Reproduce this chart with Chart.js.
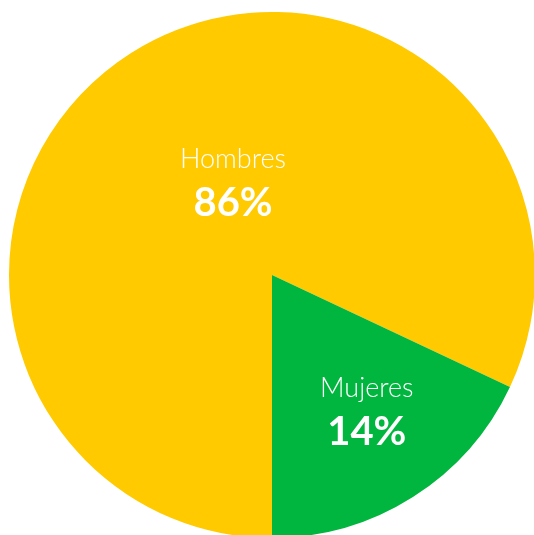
<!DOCTYPE html>
<html>
<head>
<meta charset="utf-8">
<script src="https://cdn.jsdelivr.net/npm/chart.js@4"></script>
<style>
  html, body { margin: 0; padding: 0; background: #fff; overflow: hidden; }
  body { width: 534px; height: 535px; position: relative; }
  #wrap { position: absolute; left: 9px; top: 12px; width: 526px; height: 526px; }
</style>
</head>
<body>
<div id="wrap"><canvas id="pie"></canvas></div>
<script>
// Datos
const categorias = ['Hombres', 'Mujeres'];
const valores = [82, 18];
const etiquetas = ['86%', '14%'];
const colores = ['#FFCA00', '#00B63E'];

// Etiquetas dentro de cada porción
const labelPlugin = {
    id: 'sliceLabels',
    afterDatasetsDraw(chart) {
        const ctx = chart.ctx;
        const meta = chart.getDatasetMeta(0);
        const dist = [0.39, 0.63];
        const ajuste = [[16, -7], [6, -5]];
        meta.data.forEach(function(arc, i) {
            const mid = (arc.startAngle + arc.endAngle) / 2;
            const r = arc.outerRadius * dist[i];
            const x = arc.x + Math.cos(mid) * r + ajuste[i][0];
            const y = arc.y + Math.sin(mid) * r + ajuste[i][1];
            ctx.save();
            ctx.fillStyle = '#fff';
            ctx.textAlign = 'center';
            ctx.textBaseline = 'middle';
            ctx.font = '300 27px Lato';
            ctx.fillText(categorias[i], x, y - 22);
            ctx.font = 'bold 40px Lato';
            ctx.fillText(etiquetas[i], x, y + 22);
            ctx.restore();
        });
    }
};

new Chart(document.getElementById('pie').getContext('2d'), {
    type: 'pie',
    data: {
        labels: categorias,
        datasets: [{
            data: valores,
            backgroundColor: colores,
            borderWidth: 0
        }]
    },
    options: {
        responsive: true,
        maintainAspectRatio: false,
        animation: false,
        rotation: 180,
        layout: { padding: 0 },
        plugins: {
            legend: { display: false },
            tooltip: { enabled: false }
        }
    },
    plugins: [labelPlugin]
});
</script>
</body>
</html>
